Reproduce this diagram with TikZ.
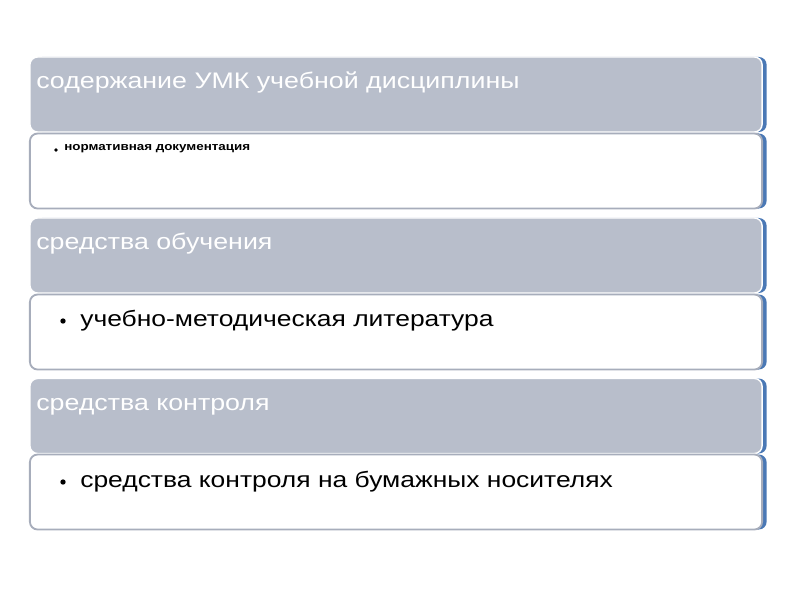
\documentclass[tikz,border=0pt]{standalone}
\usepackage{fontspec}
\setmainfont{Liberation Sans}
\newfontfamily\widefont[FakeStretch=1.19]{Liberation Sans}
\usetikzlibrary{positioning}
\definecolor{headgray}{HTML}{B8BECB}
\definecolor{rimgray}{HTML}{A7ADBB}
\definecolor{edgeblue}{HTML}{4A78B5}
\tikzset{
  box/.style={minimum width=18.3cm, minimum height=1.875cm, inner sep=0pt,
    rounded corners=5.5pt,
    preaction={fill=edgeblue, transform canvas={xshift=3.2pt}}},
  headbox/.style={box, fill=headgray, draw=white, line width=1pt},
  itembox/.style={box, fill=white, draw=rimgray, line width=1.3pt},
  headtext/.style={anchor=base west, inner sep=0pt, text=white,
    font=\widefont\fontsize{16}{19}\selectfont},
  itemtext/.style={anchor=base west, inner sep=0pt, text=black,
    font=\widefont\fontsize{15.8}{19}\selectfont},
  smalltext/.style={anchor=base west, inner sep=0pt, text=black,
    font=\widefont\fontsize{8}{10}\selectfont\bfseries},
  dot/.style={circle, fill=black, inner sep=0pt, minimum size=#1}
}

\begin{document}
\begin{tikzpicture}[x=0.025cm, y=-0.025cm]
    \useasboundingbox (0,0) rectangle (800,600);
    % Draw the boxes
    \node[headbox] (head1) at (396,94.5) {};
    \node[itembox] (item1) at (396,171) {};
    \node[headbox] (head2) at (396,255.5) {};
    \node[itembox] (item2) at (396,332) {};
    \node[headbox] (head3) at (396,416) {};
    \node[itembox] (item3) at (396,492) {};
    % Draw the texts
    \node[headtext] (title1) at (36,88) {содержание УМК учебной дисциплины};
    \node[dot=2.8pt] (bullet1) at (56,150) {};
    \node[smalltext] (line1) at (64,150.5) {нормативная документация};
    \node[headtext] (title2) at (36,249) {средства обучения};
    \node[dot=3.8pt] (bullet2) at (63,321) {};
    \node[itemtext] (line2) at (80,326) {учебно-методическая литература};
    \node[headtext] (title3) at (36,410) {средства контроля};
    \node[dot=3.8pt] (bullet3) at (63,482) {};
    \node[itemtext] (line3) at (80,487) {средства контроля на бумажных носителях};
  \end{tikzpicture}
\end{document}
